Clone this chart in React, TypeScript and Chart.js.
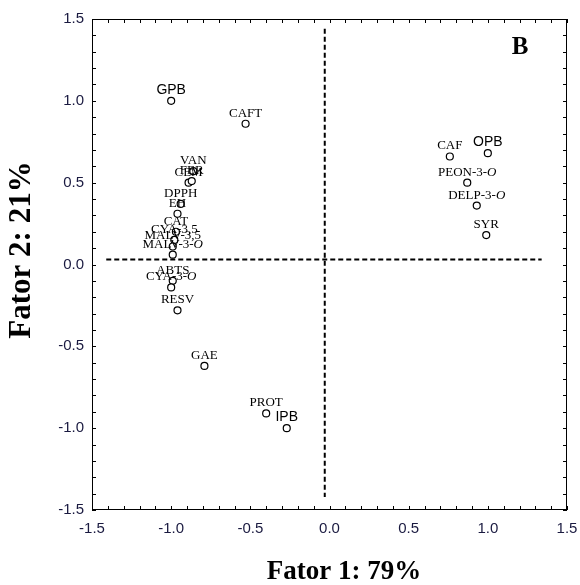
import React, { useEffect, useRef } from 'react';
import { Chart, registerables } from 'chart.js';
Chart.register(...registerables);

// Variable loadings (serif labels)
const variableNames = ['CAFT', 'VAN', 'CEM', 'FER', 'DPPH', 'EH', 'CAT', 'CYA-3,5', 'MALV-3,5', 'MALV-3-O', 'ABTS', 'CYA-3-O', 'RESV', 'GAE', 'PROT', 'CAF', 'PEON-3-O', 'DELP-3-O', 'SYR'];
const variableX = [-0.53, -0.86, -0.89, -0.87, -0.94, -0.96, -0.97, -0.98, -0.99, -0.99, -0.99, -1.0, -0.96, -0.79, -0.40, 0.76, 0.87, 0.93, 0.99];
const variableY = [0.86, 0.57, 0.50, 0.51, 0.37, 0.31, 0.20, 0.15, 0.11, 0.06, -0.10, -0.14, -0.28, -0.62, -0.91, 0.66, 0.50, 0.36, 0.18];

// Sample groups (sans labels)
const groupNames = ['GPB', 'OPB', 'IPB'];
const groupX = [-1.0, 1.0, -0.27];
const groupY = [1.0, 0.68, -1.0];

// Dashed reference lines
const hLineX = [-1.41, 1.34];
const hLineY = [0.03, 0.03];
const vLineX = [-0.03, -0.03];
const vLineY = [1.44, -1.42];

const axisMin = -1.5;
const axisMax = 1.5;
const xTitle = 'Fator 1: 79%';
const yTitle = 'Fator 2: 21%';
const panelLetter = 'B';

const SERIF = '"Liberation Serif", "Times New Roman", serif';
const SANS = '"Liberation Sans", Arial, sans-serif';

function drawLabel(ctx: CanvasRenderingContext2D, text: string, x: number, y: number, size: number) {
  const m = text.match(/^(.*-)(O)$/);
  if (!m) {
    ctx.font = `${size}px ${SERIF}`;
    ctx.textAlign = 'center';
    ctx.fillText(text, x, y);
    return;
  }
  const normalFont = `${size}px ${SERIF}`;
  const italicFont = `italic ${size}px ${SERIF}`;
  ctx.font = normalFont;
  const w1 = ctx.measureText(m[1]).width;
  ctx.font = italicFont;
  const w2 = ctx.measureText(m[2]).width;
  const start = x - (w1 + w2) / 2;
  ctx.textAlign = 'left';
  ctx.font = normalFont;
  ctx.fillText(m[1], start, y);
  ctx.font = italicFont;
  ctx.fillText(m[2], start + w1, y);
}

const decorPlugin = {
  id: 'decor',
  afterDatasetsDraw(chart: any) {
    const ctx: CanvasRenderingContext2D = chart.ctx;
    const { left, right, top, bottom } = chart.chartArea;
    const xs = chart.scales.x;
    const ys = chart.scales.y;
    ctx.save();
    // frame
    ctx.strokeStyle = '#000';
    ctx.lineWidth = 1;
    ctx.setLineDash([]);
    ctx.strokeRect(left + 0.5, top + 0.5, right - left - 1, bottom - top - 1);
    // inward ticks every 0.1
    const tl = 4;
    ctx.beginPath();
    for (let i = -15; i <= 15; i++) {
      const v = i / 10;
      const px = Math.round(xs.getPixelForValue(v)) + 0.5;
      const py = Math.round(ys.getPixelForValue(v)) + 0.5;
      ctx.moveTo(px, bottom);
      ctx.lineTo(px, bottom - tl);
      ctx.moveTo(px, top);
      ctx.lineTo(px, top + tl);
      ctx.moveTo(left, py);
      ctx.lineTo(left + tl, py);
      ctx.moveTo(right, py);
      ctx.lineTo(right - tl, py);
    }
    ctx.stroke();

    // point labels
    ctx.fillStyle = '#000';
    ctx.textBaseline = 'alphabetic';
    const metaV = chart.getDatasetMeta(2);
    metaV.data.forEach((pt: any, i: number) => {
      drawLabel(ctx, variableNames[i], pt.x, pt.y - 7, 13);
    });
    const metaG = chart.getDatasetMeta(3);
    metaG.data.forEach((pt: any, i: number) => {
      ctx.font = `14px ${SANS}`;
      ctx.textAlign = 'center';
      ctx.fillText(groupNames[i], pt.x, pt.y - 7);
    });

    // panel letter
    ctx.font = `bold 25px ${SERIF}`;
    ctx.textAlign = 'center';
    ctx.textBaseline = 'middle';
    ctx.fillText(panelLetter, 520, 48);

    // axis titles
    ctx.font = `bold 27px ${SERIF}`;
    ctx.textAlign = 'center';
    ctx.textBaseline = 'middle';
    ctx.fillText(xTitle, 344, 572);
    ctx.translate(22, 250);
    ctx.rotate(-Math.PI / 2);
    ctx.font = `bold 31px ${SERIF}`;
    ctx.fillText(yTitle, 0, 0);
    ctx.restore();
  },
};

export default function App() {
  const ref = useRef<HTMLCanvasElement>(null);
  useEffect(() => {
    document.body.style.margin = '0';
    const canvas = ref.current;
    if (!canvas) return;
    const tickFont = { family: SANS, size: 15 };
    const chart = new Chart(canvas, {
      type: 'scatter',
      data: {
        datasets: [
          {
            label: 'h',
            data: hLineX.map((x, i) => ({ x, y: hLineY[i] })),
            showLine: true,
            borderColor: '#000',
            borderWidth: 2,
            borderDash: [5, 3],
            pointRadius: 0,
          },
          {
            label: 'v',
            data: vLineX.map((x, i) => ({ x, y: vLineY[i] })),
            showLine: true,
            borderColor: '#000',
            borderWidth: 2,
            borderDash: [5, 3],
            pointRadius: 0,
          },
          {
            label: 'variables',
            data: variableX.map((x, i) => ({ x, y: variableY[i] })),
            pointRadius: 3.5,
            borderWidth: 1.2,
            borderColor: '#000',
            backgroundColor: '#fff',
          },
          {
            label: 'groups',
            data: groupX.map((x, i) => ({ x, y: groupY[i] })),
            pointRadius: 3.5,
            borderWidth: 1.2,
            borderColor: '#000',
            backgroundColor: '#fff',
          },
        ],
      },
      options: {
        responsive: false,
        animation: false,
        devicePixelRatio: 1,
        layout: { padding: { top: 19, right: 13, left: 0, bottom: 0 } },
        plugins: { legend: { display: false }, tooltip: { enabled: false } },
        scales: {
          x: {
            type: 'linear',
            min: axisMin,
            max: axisMax,
            grid: { display: false, drawTicks: false },
            border: { display: false },
            ticks: {
              stepSize: 0.5,
              padding: 10,
              color: '#1a1a40',
              font: tickFont,
              maxRotation: 0,
              callback: (v: any) => Number(v).toFixed(1),
            },
            afterFit: (s: any) => {
              s.height = 75;
              s.paddingLeft = 0;
              s.paddingRight = 0;
            },
          },
          y: {
            type: 'linear',
            min: axisMin,
            max: axisMax,
            grid: { display: false, drawTicks: false },
            border: { display: false },
            ticks: {
              stepSize: 0.5,
              padding: 8,
              color: '#1a1a40',
              font: tickFont,
              callback: (v: any) => Number(v).toFixed(1),
            },
            afterFit: (s: any) => {
              s.width = 92;
              s.paddingTop = 0;
              s.paddingBottom = 0;
            },
          },
        },
      },
      plugins: [decorPlugin],
    });
    return () => chart.destroy();
  }, []);
  return <canvas ref={ref} width={580} height={585} style={{ display: 'block' }} />;
}
